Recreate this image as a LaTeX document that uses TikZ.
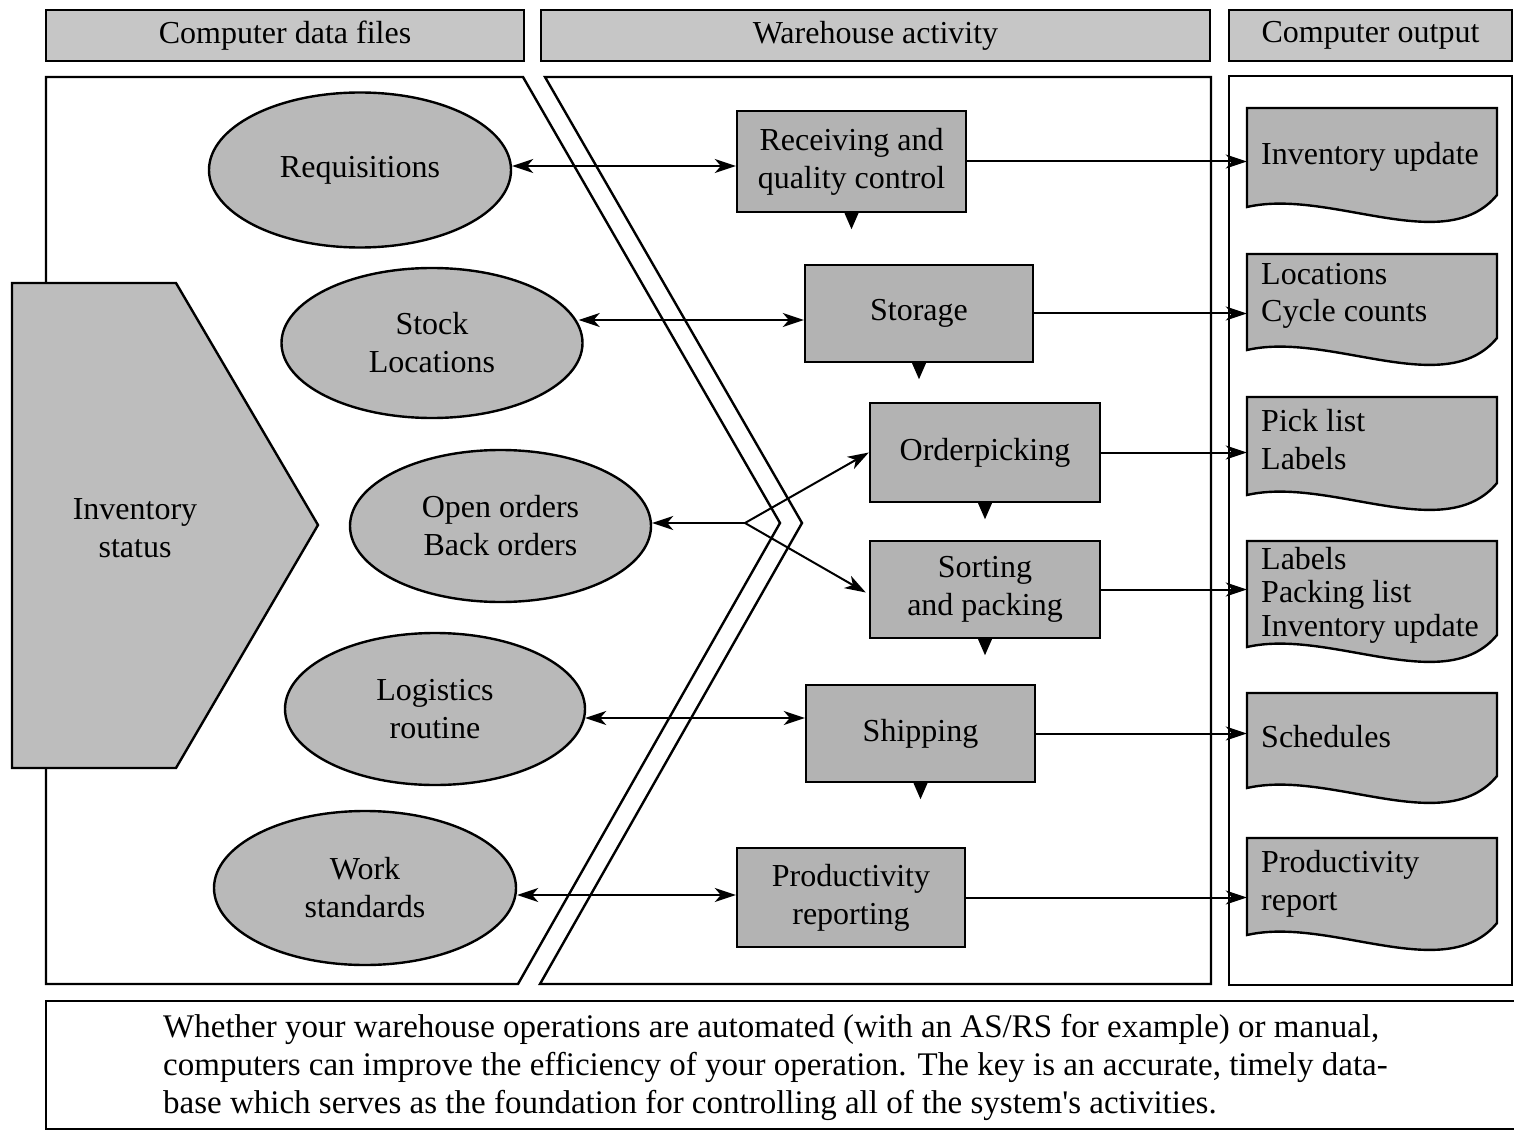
\documentclass[tikz,border=0pt]{standalone}
\usepackage{fontspec}
\setmainfont{Liberation Serif}
\newfontfamily\notefont{Liberation Serif}
\usetikzlibrary{shapes.geometric,arrows.meta,calc}
\definecolor{ellfill}{HTML}{B9B9B9}
\definecolor{boxfill}{HTML}{B3B3B3}
\definecolor{hdrfill}{HTML}{C6C6C6}
\definecolor{docfill}{HTML}{B4B4B4}
\definecolor{pentfill}{HTML}{BDBDBD}
\newcommand{\docshape}[6]{% name, top, height, text center y, spacing, text
  \fill[docfill,draw=black,line width=2.4pt] (1247,#2) -- (1497,#2) -- (1497,{#2+#3-12})
    .. controls (1445,{#2+#3+51}) and (1330,{#2+#3-19}) .. (1247,{#2+#3}) -- cycle;
  \node[minimum width=250, minimum height=#3, inner sep=0] (#1) at (1372,{#2+#3/2}) {};
  \node[anchor=west, align=left, inner sep=0, font=\fontsize{32}{#5}\selectfont] (#1-t) at (1261,#4) {#6};
}
\begin{document}
\begin{tikzpicture}[x=1pt,y=-1pt,
  every node/.style={font=\fontsize{32}{38}\selectfont},
  ell/.style={ellipse, draw, line width=2.4pt, fill=ellfill, inner sep=0, align=center},
  act/.style={rectangle, draw, line width=2.4pt, fill=boxfill, inner sep=0, align=center},
  hdr/.style={rectangle, draw, line width=2.4pt, fill=hdrfill, inner sep=0},
  frame/.style={line width=2.4pt, line join=miter},
  arr/.style={-{Stealth[length=21pt,width=14pt,inset=6pt]}, line width=2pt},
  biarr/.style={{Stealth[length=21pt,width=14pt,inset=6pt]}-{Stealth[length=21pt,width=14pt,inset=6pt]}, line width=2pt},
  downtri/.style={fill=black}]
\useasboundingbox (0,0) rectangle (1514,1131);
\fill[white] (0,0) rectangle (1514,1131);

% headers
\node[hdr, minimum width=478, minimum height=51] (h1) at (285,35.5) {Computer data files};
\node[hdr, minimum width=669, minimum height=51] (h2) at (875.5,35.5) {Warehouse activity};
\node[hdr, minimum width=283, minimum height=51] (h3) at (1370.5,35.5) {Computer output};

% panels
\draw[frame] (523,77) -- (780,523) -- (518,984) -- (46,984) -- (46,77) -- cycle;
\draw[frame] (545,77) -- (802,523) -- (540,984) -- (1211,984) -- (1211,77) -- cycle;
\draw[frame] (1229,76) rectangle (1512,985);

% inventory status
\fill[pentfill,draw=black,line width=2.4pt] (12,283) -- (176,283) -- (318,525) -- (176,768) -- (12,768) -- cycle;
\node[align=center, inner sep=0] (inv) at (135,528) {Inventory\\status};

% data files
\node[ell, minimum width=302, minimum height=155] (req) at (360,170) {Requisitions};
\node[ell, minimum width=301, minimum height=150] (stock) at (432,343) {Stock\\Locations};
\node[ell, minimum width=301, minimum height=152] (open) at (500.5,526) {Open orders\\Back orders};
\node[ell, minimum width=300, minimum height=152] (logi) at (435,709) {Logistics\\routine};
\node[ell, minimum width=302, minimum height=154] (work) at (365,888) {Work\\standards};

% activities
\node[act, minimum width=229, minimum height=101] (recv) at (851.5,161.5) {Receiving and\\quality control};
\node[act, minimum width=228, minimum height=97] (stor) at (919,313.5) {Storage};
\node[act, minimum width=230, minimum height=99] (pick) at (985,452.5) {Orderpicking};
\node[act, minimum width=230, minimum height=97] (sort) at (985,589.5) {Sorting\\and packing};
\node[act, minimum width=229, minimum height=97] (ship) at (920.5,733.5) {Shipping};
\node[act, minimum width=228, minimum height=99] (prod) at (851,897.5) {Productivity\\reporting};

% down triangles
\foreach \b in {recv,stor,pick,sort,ship}{
  \fill[downtri] ($(\b.south)+(-7,0)$) -- ($(\b.south)+(7,0)$) -- ($(\b.south)+(0,16)$) -- cycle;
}

% outputs
\docshape{d1}{108}{99}{157}{38}{Inventory update}
\docshape{d2}{254}{96}{295.5}{37}{Locations\\Cycle counts}
\docshape{d3}{397}{98}{440}{38}{Pick list\\Labels}
\docshape{d4}{541}{106}{595}{33.5}{Labels\\Packing list\\Inventory update}
\docshape{d5}{693}{95}{737}{38}{Schedules}
\docshape{d6}{838}{97}{884}{38}{Productivity\\report}

% bidirectional links
\draw[biarr] ($(req.east)+(0,-4)$) -- ($(recv.west)+(0,4.5)$);
\draw[biarr] ($(stock.east)+(-5,-23)$) -- ($(stor.west)+(0,6.5)$);
\draw[biarr] ($(logi.east)+(-1,9)$) -- ($(ship.west)+(0,-15.5)$);
\draw[biarr] ($(work.east)+(0,7)$) -- ($(prod.west)+(0,-2.5)$);
\coordinate (jn) at (745,523);
\draw[arr] (jn) -- ($(open.east)+(0,-3)$);
\draw[arr] (jn) -- (pick.west);
\draw[arr] (jn) -- ($(sort.west)+(-3,3)$);

% outputs arrows
\draw[arr] (recv.east) -- (recv.east -| d1.west);
\draw[arr] (stor.east) -- (stor.east -| d2.west);
\draw[arr] (pick.east) -- (pick.east -| d3.west);
\draw[arr] (sort.east) -- (sort.east -| d4.west);
\draw[arr] (ship.east) -- (ship.east -| d5.west);
\draw[arr] (prod.east) -- (prod.east -| d6.west);

% bottom note
\draw[line width=2.4pt] (1520,1001) -- (46,1001) -- (46,1129) -- (1520,1129);
\node[anchor=north west, align=left, inner sep=0, font=\notefont\fontsize{33}{38}\selectfont] (note) at (163,1014)
 {Whether your warehouse operations are automated (with an AS/RS for example) or manual,\\
  computers can improve the efficiency of your operation. The key is an accurate, timely data-\\
  base which serves as the foundation for controlling all of the system's activities.};
\end{tikzpicture}
\end{document}
